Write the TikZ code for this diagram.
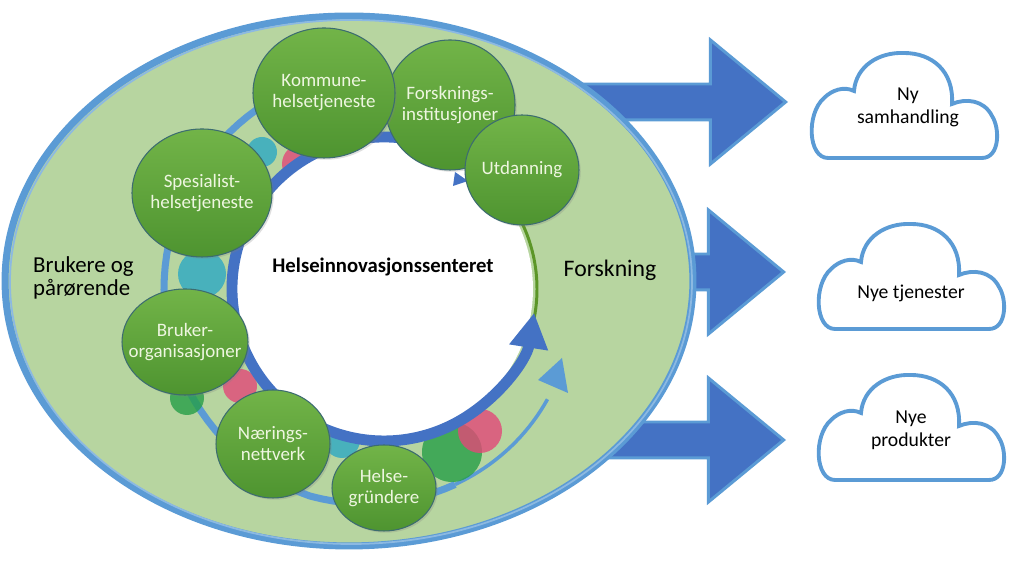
\documentclass[tikz,border=0pt]{standalone}
\usepackage{fontspec}
\setmainfont{Carlito}
\usetikzlibrary{shapes.geometric,shapes.arrows,arrows.meta,shadows}
\definecolor{ringblue}{HTML}{4472C4}
\definecolor{edgeblue}{HTML}{5B9BD5}
\definecolor{fieldgreen}{RGB}{183,213,160}
\definecolor{bubbletop}{RGB}{114,180,72}
\definecolor{bubblebot}{RGB}{78,148,48}
\definecolor{bubbleedge}{RGB}{60,108,112}
\definecolor{bubbletext}{RGB}{238,246,224}
\definecolor{dotteal}{RGB}{45,168,196}
\definecolor{dotpink}{RGB}{226,72,120}
\definecolor{dotgreen}{RGB}{38,158,72}
\definecolor{arcgreen}{RGB}{92,150,40}
\begin{document}
\begin{tikzpicture}[
   x=0.02cm, y=0.02cm,
   bubble/.style 2 args={ellipse, draw=bubbleedge, line width=0.6pt, top color=bubbletop, bottom color=bubblebot, minimum width=#1*0.02cm, minimum height=#2*0.02cm, inner sep=0pt, drop shadow={opacity=0.25, shadow xshift=1pt, shadow yshift=-1pt}},
   bubbletxt/.style={align=center, text=bubbletext, font=\fontsize{10.8}{12}\selectfont},
   dot/.style={fill=#1, opacity=0.8},
   bigarrow/.style={single arrow, draw=edgeblue, line width=1.7pt, fill=ringblue, minimum height=4.6cm, minimum width=2.46cm, single arrow head extend=0.88cm, single arrow tip angle=79, inner xsep=0pt, inner ysep=0.33cm, anchor=tip},
   cloudline/.style={draw=edgeblue, line width=2.2pt, fill=white},
   cloudtext/.style={align=center, font=\fontsize{11.2}{13}\selectfont},
   sidetext/.style={align=left, font=\fontsize{13}{13}\selectfont},
   skycloud/.pic={
      \draw[cloudline] (-76,-52) .. controls (-96,-52) and (-98,-8) .. (-80,8)
         .. controls (-72,16) and (-60,20) .. (-50,15)
         .. controls (-48,40) and (-25,54) .. (0,53)
         .. controls (28,53) and (50,35) .. (48,2)
         .. controls (62,8) and (80,6) .. (88,-10)
         .. controls (96,-22) and (96,-52) .. (78,-52) -- cycle;
   }
]
\useasboundingbox (0,0) rectangle (1024,563);

% arrows out of the field
\node[bigarrow] (arr1) at (788,461) {};
\node[bigarrow] (arr2) at (786,291) {};
\node[bigarrow] (arr3) at (786,123) {};

% the field
\node[ellipse, draw=edgeblue, line width=4pt, fill=fieldgreen, minimum width=13.76cm, minimum height=10.6cm] (field) at (349,282) {};
\draw[edgeblue!70, line width=1pt] (351,281) ellipse[x radius=341, y radius=262];

% outer light ring
\draw[edgeblue, line width=4pt] plot[domain=110:290, samples=60] ({384+(220-max(0,\x-250)*0.3)*cos(\x)}, {274+(220-max(0,\x-250)*0.3)*sin(\x)});
\draw[edgeblue, line width=2pt] plot[domain=290:326, samples=20] ({384+(220-max(0,\x-250)*0.3)*cos(\x)}, {274+(220-max(0,\x-250)*0.3)*sin(\x)});
\fill[edgeblue] (562,205) -- (568,170) -- (538,183) -- cycle;

% dots
\fill[dot=dotteal] (262,411) circle[radius=15];
\fill[dot=dotpink] (302,399) circle[radius=20];
\fill[dot=dotteal] (202,289) circle[radius=24];
\fill[dot=dotpink] (240,177) circle[radius=17];
\fill[dot=dotgreen] (187,165) circle[radius=17];
\fill[dot=dotteal] (342,123) circle[radius=18];
\fill[dot=dotgreen] (452,111) circle[radius=30];
\fill[dot=dotpink] (480,132) circle[radius=22];

% hub and its ring
\node[circle, fill=white, minimum size=5.96cm, inner sep=0pt] (hub) at (384,274) {};
\draw[arcgreen, line width=1.7pt] (hub.center) ++(-12:153) arc[start angle=-12, end angle=30, radius=153];
\draw[ringblue, line width=6.2pt, -{Triangle[length=20pt, width=21pt]}] (hub.center) ++(58:152) arc[start angle=58, end angle=351, radius=152];
\fill[ringblue] (455,391) -- (453,377) -- (468,382) -- cycle;

% actors
\node[bubble={140}{128}, label={[bubbletxt]center:Spesialist-\\helsetjeneste}] (spesialist) at (202,370) {};
\node[bubble={130}{130}, label={[bubbletxt]center:Forsknings-\\institusjoner}] (forskinst) at (450,458) {};
\node[bubble={142}{130}, label={[bubbletxt]center:Kommune-\\helsetjeneste}] (kommune) at (324,470) {};
\node[bubble={114}{110}, label={[bubbletxt]center:Utdanning}] (utdanning) at (522,393) {};
\node[bubble={126}{106}, label={[bubbletxt]center:Bruker-\\organisasjoner}] (brukerorg) at (185,221) {};
\node[bubble={114}{108}, label={[bubbletxt]center:Nærings-\\nettverk}] (naering) at (273,119) {};
\node[bubble={104}{86}, label={[bubbletxt]center:Helse-\\gründere}] (grundere) at (384,75) {};

% texts
\node[font=\fontsize{11.8}{14}\selectfont\bfseries] (hubtext) at (383,296) {Helseinnovasjonssenteret};
\node[sidetext, anchor=west] (brukere) at (27,285) {Brukere og\\pårørende};
\node[font=\fontsize{13.5}{14}\selectfont] (forskning) at (610,293) {Forskning};

% clouds
\pic at (904,457) {skycloud};
\pic at (911,286) {skycloud};
\pic at (911,135) {skycloud};
\node[cloudtext] (c1) at (908,456) {Ny\\samhandling};
\node[cloudtext] (c2) at (911,270) {Nye tjenester};
\node[cloudtext] (c3) at (911,133) {Nye\\produkter};

\end{tikzpicture}
\end{document}
